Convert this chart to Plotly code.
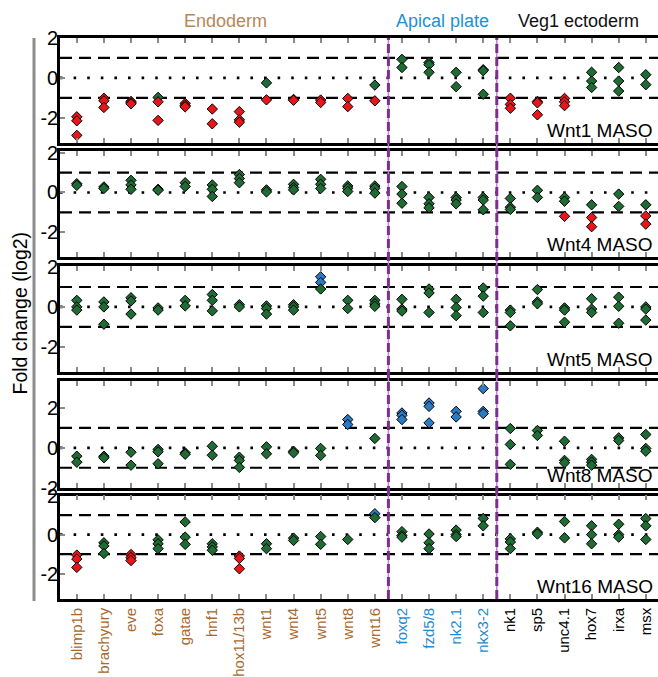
import plotly.graph_objects as go

categories = ["blimp1b", "brachyury", "eve", "foxa", "gatae", "hnf1", "hox11/13b",
              "wnt1", "wnt4", "wnt5", "wnt8", "wnt16",
              "foxq2", "fzd5/8", "nk2.1", "nkx3-2",
              "nk1", "sp5", "unc4.1", "hox7", "irxa", "msx"]
group_names = ["Endoderm", "Apical plate", "Veg1 ectoderm"]
group_sizes = [12, 4, 6]
group_title_colors = ["#B8875A", "#1E90D8", "#111111"]
group_label_colors = ["#A8692F", "#1E8BD2", "#000000"]
panel_names = ["Wnt1 MASO", "Wnt4 MASO", "Wnt5 MASO", "Wnt8 MASO", "Wnt16 MASO"]
y_tick_vals = [-2, 0, 2]
y_tick_text = ["-2", "0", "2"]
threshold_lines = [-1, 1]

wnt1 = [[-1.95, -2.15, -2.88], [-1.02, -1.15, -1.48], [-1.18, -1.25, -1.3], [-0.98, -1.2, -2.13],
        [-1.28, -1.38, -1.45], [-1.56, -2.3], [-1.69, -2.1, -2.22], [-0.25, -1.1],
        [-1.08, -1.12], [-1.11, -1.23], [-1.03, -1.44], [-0.36, -1.15],
        [0.93, 0.52], [0.77, 0.66, 0.28], [0.28, -0.44], [0.41, 0.36, -0.82],
        [-1.02, -1.33, -1.52], [-1.18, -1.25, -1.85], [-1.03, -1.2, -1.39],
        [0.28, -0.16, -0.48], [0.52, -0.16, -0.66], [0.16, -0.34]]
wnt4 = [[0.44, 0.36], [0.28, 0.2], [0.61, 0.38, 0.16], [0.16, 0.11],
        [0.49, 0.3], [0.38, 0.16, -0.2], [0.9, 0.7, 0.49], [0.13, 0.03],
        [0.41, 0.25, 0.13], [0.66, 0.41, 0.2], [0.33, 0.21, 0.05], [0.33, 0.21, -0.03],
        [0.3, -0.08, -0.54], [-0.25, -0.57, -0.77], [-0.25, -0.38, -0.57], [-0.25, -0.38, -0.87],
        [-0.3, -0.74, -0.85], [0.11, -0.25], [-0.25, -0.44, -1.2],
        [-0.62, -1.26, -1.72], [-0.08, -0.7], [-0.62, -1.18, -1.59]]
wnt5 = [[0.33, 0.0, -0.16], [0.25, 0.0, -0.87], [0.46, 0.3, -0.36], [-0.05, -0.16],
        [0.33, 0.05], [0.62, 0.33, -0.2], [0.11, 0.0], [0.05, -0.08, -0.36],
        [0.11, 0.0, -0.16], [1.51, 1.23, 0.9], [0.33, -0.08], [0.33, 0.16, 0.03],
        [0.38, -0.11, -0.21], [0.9, 0.7, -0.28], [0.38, -0.03, -0.44], [0.95, 0.54, -0.28],
        [-0.16, -0.28, -0.95], [0.87, 0.25, 0.16], [-0.05, -0.16, -0.77],
        [0.41, -0.11, -0.28], [0.49, 0.03, -0.82], [0.0, -0.11, -0.66]]
wnt8 = [[-0.42, -0.72], [-0.42, -0.5], [-0.22, -0.87], [-0.08, -0.2, -0.8],
        [-0.25, -0.32], [0.08, -0.37], [-0.47, -0.63, -0.98], [0.05, -0.3],
        [-0.17, -0.25], [-0.03, -0.38], [1.42, 1.17], [0.47],
        [1.75, 1.63, 1.42], [2.25, 2.08, 1.25], [1.83, 1.55], [2.97, 1.83, 1.72],
        [0.97, 0.17, -0.83], [0.87, 0.62], [0.33, -0.63, -0.75],
        [-0.58, -0.72, -0.87], [0.5, 0.37], [0.67, -0.03, -0.17]]
wnt16 = [[-1.05, -1.25, -1.68], [-0.42, -0.58, -0.97], [-1.02, -1.18, -1.33], [-0.27, -0.47, -0.72],
         [0.65, -0.13, -0.5], [-0.47, -0.63, -0.8], [-1.1, -1.22, -1.75], [-0.47, -0.72],
         [-0.18, -0.3], [-0.1, -0.5], [-0.25], [1.07, 0.87],
         [0.15, -0.05, -0.13], [0.03, -0.42, -0.72], [0.23, 0.0, -0.1], [0.83, 0.45],
         [-0.22, -0.38, -0.72], [0.12, 0.03], [0.67, -0.17],
         [0.45, 0.0, -0.47], [0.53, 0.0, -0.13], [0.82, 0.45, -0.25]]
panel_values = [wnt1, wnt4, wnt5, wnt8, wnt16]
panel_ranges = [[-3.25, 2.0], [-3.25, 2.08], [-3.28, 2.03], [-2.03, 3.33], [-3.3, 2.0]]

RED, GREEN, BLUE = "#E8161B", "#1E6B34", "#2A7BC5"
FONT = "Liberation Sans, Arial, sans-serif"

W, H = 658, 677
ML, MR, MT, MB = 60, 0, 38, 75
plot_h = H - MT - MB
plot_w = W - ML - MR
# panel pixel extents (top, bottom)
panel_px = [(38, 143.3), (151.7, 258.3), (267.7, 374), (383.3, 490.7), (498, 602)]

def py2paper(p):
    return (H - MB - p) / plot_h

def px2paper(p):
    return (p - ML) / plot_w

n = len(categories)
cat_colors = []
for gs, gc in zip(group_sizes, group_label_colors):
    cat_colors += [gc] * gs
ticktext = [f'<span style="color:{c}">{t}</span>' for t, c in zip(categories, cat_colors)]

fig = go.Figure()
layout = dict(width=W, height=H, margin=dict(l=ML, r=MR, t=MT, b=MB),
              plot_bgcolor="white", paper_bgcolor="white", showlegend=False,
              font=dict(family=FONT, color="black"))
shapes = []
annotations = []

for i, (vals, rng, name, (top, bot)) in enumerate(zip(panel_values, panel_ranges, panel_names, panel_px)):
    s = "" if i == 0 else str(i + 1)
    xs, ys, cs = [], [], []
    for ci, reps in enumerate(vals):
        for v in reps:
            xs.append(ci)
            ys.append(v)
            cs.append(RED if v < -1 else (BLUE if v > 1 else GREEN))
    fig.add_trace(go.Scatter(x=xs, y=ys, mode="markers", xaxis="x" + s, yaxis="y" + s,
                             marker=dict(symbol="diamond", size=8, color=cs,
                                         line=dict(color="black", width=1)),
                             hoverinfo="skip"))
    last = (i == len(panel_values) - 1)
    layout["xaxis" + s] = dict(domain=[0, 1], range=[-0.62, 21.45], anchor="y" + s,
                               showline=True, linewidth=2.6, linecolor="black", mirror="allticks",
                               ticks="inside", ticklen=5, tickwidth=2, tickcolor="#8a8a8a",
                               tickvals=list(range(n)), ticktext=ticktext,
                               showticklabels=last, tickangle=-90,
                               tickfont=dict(size=15, family=FONT),
                               showgrid=False, zeroline=False, fixedrange=True)
    layout["yaxis" + s] = dict(domain=[py2paper(bot), min(1, py2paper(top))], range=rng, anchor="x" + s,
                               showline=True, linewidth=2.6, linecolor="black", mirror=False,
                               ticks="inside", ticklen=5, tickwidth=2, tickcolor="#8a8a8a",
                               tickvals=y_tick_vals, ticktext=y_tick_text,
                               tickfont=dict(size=20, family=FONT), ticklabelstandoff=-5,
                               showgrid=False, zeroline=False, fixedrange=True)
    for v in threshold_lines:
        shapes.append(dict(type="line", xref=f"x{s} domain", yref="y" + s, x0=0, x1=1, y0=v, y1=v,
                           line=dict(color="black", width=2.2, dash="12px,7px"), layer="below"))
    shapes.append(dict(type="line", xref=f"x{s} domain", yref="y" + s, x0=0, x1=1, y0=0, y1=0,
                       line=dict(color="black", width=2.6, dash="2.6px,11px"), layer="below"))
    annotations.append(dict(text=name, xref="paper", yref=f"y{s} domain", x=px2paper(655), y=0,
                            xanchor="right", yanchor="bottom", showarrow=False,
                            font=dict(size=19, family=FONT, color="black")))

# group separators and group titles
start = 0
for gi, (gname, gs, gcol) in enumerate(zip(group_names, group_sizes, group_title_colors)):
    mid = start + (gs - 1) / 2
    annotations.append(dict(text=gname, xref="x", yref="paper", x=mid, y=py2paper(21),
                            xanchor="center", yanchor="middle", showarrow=False,
                            font=dict(size=18, family=FONT, color=gcol)))
    if gi > 0:
        xb = start - 0.5
        shapes.append(dict(type="line", xref="x", yref="paper", x0=xb, x1=xb, y0=0, y1=1,
                           line=dict(color="#B98AC9", width=1.5), layer="above"))
        shapes.append(dict(type="line", xref="x", yref="paper", x0=xb, x1=xb, y0=0, y1=1,
                           line=dict(color="#7E2E91", width=3, dash="9px,4px"), layer="above"))
    start += gs

# grey bracket line left of axis
shapes.append(dict(type="line", xref="paper", yref="paper", x0=px2paper(34), x1=px2paper(34),
                   y0=py2paper(604), y1=py2paper(38), line=dict(color="#8c8c8c", width=3)))

annotations.append(dict(text="Fold change (log2)", xref="paper", yref="paper",
                        x=px2paper(20), y=py2paper(315), textangle=-90,
                        xanchor="center", yanchor="middle", showarrow=False,
                        font=dict(size=19.5, family=FONT, color="black")))

layout["shapes"] = shapes
layout["annotations"] = annotations
fig.update_layout(**layout)
fig.write_html("out.html", config={"displayModeBar": False},
               post_script="document.body.style.margin='0px';document.body.style.overflow='hidden';")
